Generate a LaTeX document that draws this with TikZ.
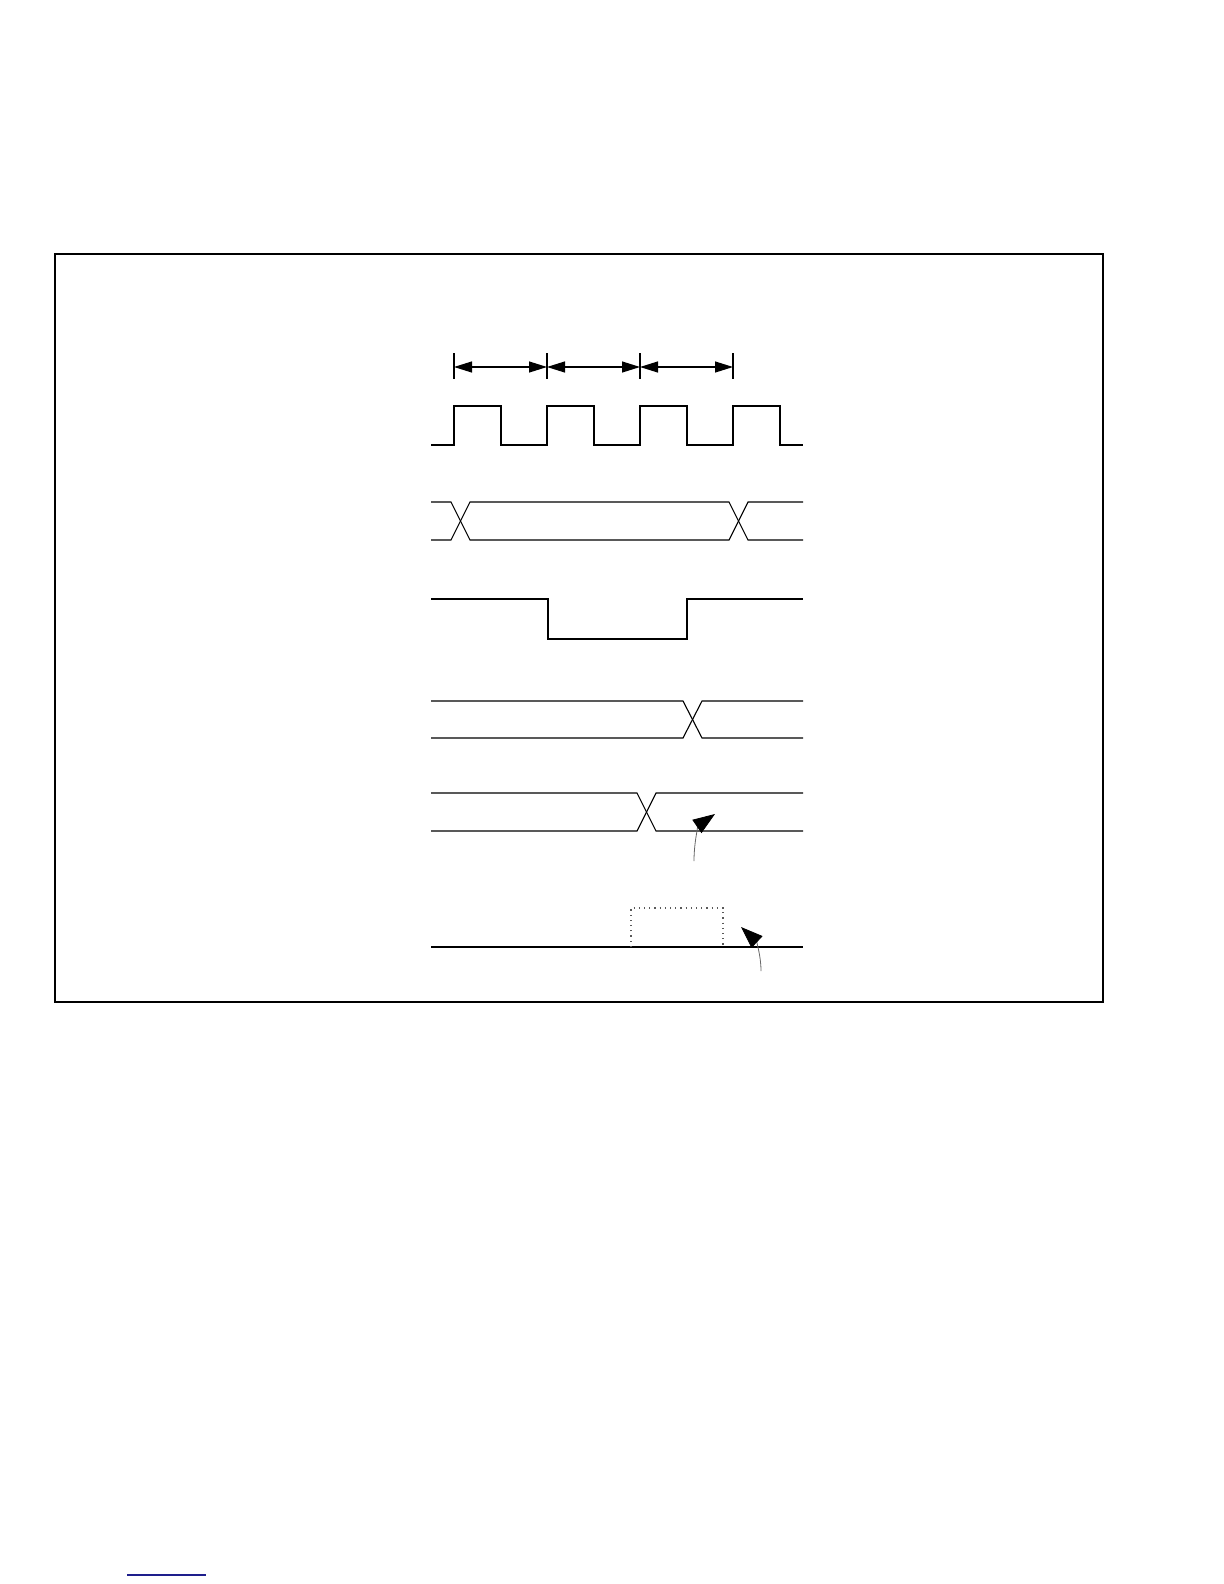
\documentclass[tikz,border=0pt]{standalone}
\usetikzlibrary{arrows.meta}
\definecolor{navyline}{RGB}{30,30,140}
\tikzset{
  sig/.style={line width=0.55pt, black},
  frame/.style={line width=0.75pt, black},
  dimline/.style={line width=0.6pt, {Triangle[length=9pt,width=5.5pt]}-{Triangle[length=9pt,width=5.5pt]}},
  tick/.style={line width=0.6pt},
  pointer/.style={line width=0.4pt, gray!80!black, -{Triangle[length=11pt,width=8pt,black]}},
  window/.style={line width=0.6pt, dotted, gray!70!black}
}
\begin{document}
\begin{tikzpicture}[x=0.5pt,y=-0.5pt]
\useasboundingbox (0,0) rectangle (1224,1584);
% frame
\draw[frame] (55,254) rectangle (1103,1002);
% dimension ticks
\foreach \x/\n in {454/a,547/b,640/c,733/d}{
  \coordinate (t\n top) at (\x,353);
  \coordinate (t\n bot) at (\x,379);
  \coordinate (t\n) at (\x,367);
  \draw[tick] (t\n top) -- (t\n bot);
}
\draw[dimline] (ta) -- (tb);
\draw[dimline] (tb) -- (tc);
\draw[dimline] (tc) -- (td);
% clock
\draw[sig] (431,445) -- (454,445) -- (454,406) -- (501,406) -- (501,445) -- (547,445) -- (547,406) -- (594,406) -- (594,445) -- (640,445) -- (640,406) -- (687,406) -- (687,445) -- (733,445) -- (733,406) -- (780,406) -- (780,445) -- (803,445);
% bus row 2
\draw[sig] (431,502) -- (451,502) -- (470,540) -- (729,540) -- (748,502) -- (803,502);
\draw[sig] (431,540) -- (451,540) -- (470,502) -- (729,502) -- (748,540) -- (803,540);
% row 3
\draw[sig] (431,599) -- (548,599) -- (548,639) -- (687,639) -- (687,599) -- (803,599);
% row 4
\draw[sig] (431,701) -- (683,701) -- (702,738) -- (803,738);
\draw[sig] (431,738) -- (683,738) -- (702,701) -- (803,701);
% row 5
\draw[sig] (431,793) -- (637,793) -- (656,831) -- (803,831);
\draw[sig] (431,831) -- (637,831) -- (656,793) -- (803,793);
\coordinate (p1s) at (694,861);
\coordinate (p1e) at (715,814);
\draw[pointer] (p1s) .. controls (694,840) and (699,825) .. (p1e);
% row 6
\draw[sig] (431,947) -- (803,947);
\draw[window] (631,947) -- (631,908) -- (723,908) -- (723,947);
\coordinate (p2s) at (761,971);
\coordinate (p2e) at (741,927);
\draw[pointer] (p2s) .. controls (761,955) and (756,941) .. (p2e);
% bottom blue rule
\draw[navyline, line width=0.9pt] (127,1575) -- (206,1575);
\end{tikzpicture}
\end{document}
